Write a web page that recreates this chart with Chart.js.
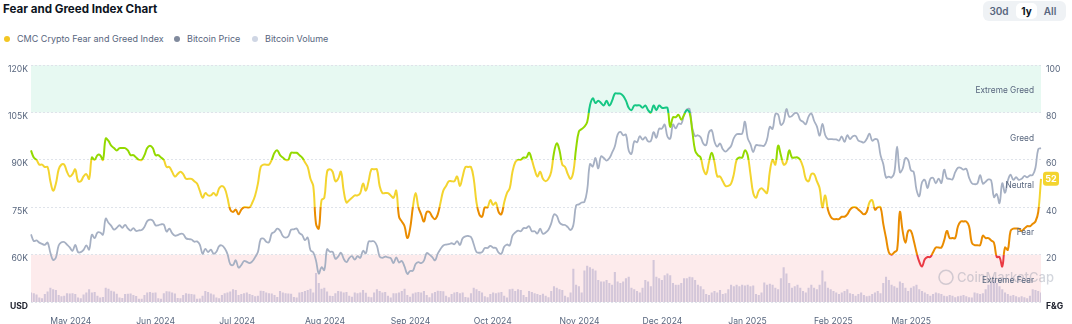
<!DOCTYPE html>
<html>
<head>
<meta charset="utf-8">
<script src="https://cdn.jsdelivr.net/npm/chart.js@4.4.1/dist/chart.umd.min.js"></script>
<style>
    body { margin: 0; background: #fff; font-family: Inter, 'Noto Sans', sans-serif; }
    .page { position: relative; width: 1072px; height: 324px; overflow: hidden; }
    .title { position: absolute; left: 3px; top: 2px; font-size: 11.6px; font-weight: 700; color: #0d1421; }
    .legend-item { position: absolute; top: 33px; font-size: 9px; color: #58667e; display: flex; align-items: center; white-space: nowrap; }
    .legend-item i { display: inline-block; width: 6px; height: 6px; border-radius: 50%; margin-right: 7px; }
    .tabs { position: absolute; left: 983px; top: 1px; width: 83px; height: 20px; background: #eff2f5; border-radius: 6px; }
    .tabs div { position: absolute; top: 2px; height: 16px; line-height: 16px; font-size: 10px; font-weight: 600; color: #58667e; text-align: center; }
    .tabs .on { background: #fff; color: #0d1421; border-radius: 5px; font-weight: 700; }
    .chart-box { position: absolute; left: 0; top: 55px; width: 1072px; height: 269px; }
    .chart-box canvas { display: block; }
</style>
</head>
<body>
<div class="page">
    <div class="title">Fear and Greed Index Chart</div>
    <div class="legend-item" style="left: 4px"><i style="background: #f3c623"></i>CMC Crypto Fear and Greed Index</div>
    <div class="legend-item" style="left: 174px"><i style="background: #808a9d"></i>Bitcoin Price</div>
    <div class="legend-item" style="left: 252px"><i style="background: #cfd6e4"></i>Bitcoin Volume</div>
    <div class="tabs">
        <div style="left: 4px; width: 24px">30d</div>
        <div class="on" style="left: 33px; width: 21px">1y</div>
        <div style="left: 56px; width: 22px">All</div>
    </div>
    <div class="chart-box"><canvas id="fgChart" width="1072" height="269"></canvas></div>
</div>
<script>
// daily points, first day 2024-04-24, last day 2025-04-24
const firstDay = Date.UTC(2024, 3, 24);

// Bitcoin price, thousands of USD
const btcPrice = [
    66.4, 64.3, 64.5, 63.8, 63.4, 63.1, 63.8, 60.6,
    58.3, 59.1, 62.9, 63.9, 64.0, 63.2, 62.3, 61.2, 63.1, 60.8, 60.8, 61.5, 62.9, 61.6, 66.3, 65.2, 67.0, 67.0, 66.3, 71.4, 70.1, 69.1, 67.9, 68.5, 69.3, 68.5, 69.4, 68.3, 67.6, 68.4, 67.5,
    67.7, 67.8, 68.8, 70.6, 71.1, 70.8, 69.3, 69.3, 69.6, 69.5, 67.3, 68.2, 66.8, 66.0, 66.2, 66.6, 66.5, 65.2, 64.9, 64.8, 64.1, 64.2, 63.2, 60.3, 61.8, 60.8, 61.6, 60.3, 60.9, 62.7,
    62.9, 62.0, 60.2, 57.0, 56.7, 58.2, 55.9, 56.7, 58.0, 57.7, 57.3, 57.9, 59.2, 60.8, 64.9, 65.1, 64.1, 63.9, 66.7, 67.2, 68.2, 67.6, 65.9, 65.4, 65.8, 67.9, 68.0, 68.3, 66.8, 66.2, 64.6,
    65.4, 61.4, 60.7, 58.1, 54.0, 56.0, 55.1, 61.7, 60.9, 60.9, 58.7, 59.4, 60.6, 58.7, 57.6, 58.9, 59.5, 58.4, 59.5, 59.0, 61.2, 60.4, 64.1, 64.2, 64.2, 62.8, 59.4, 59.0, 59.4, 59.1, 58.9,
    57.3, 59.1, 57.5, 58.0, 56.2, 53.9, 54.8, 54.9, 57.0, 57.6, 57.3, 58.1, 60.5, 60.0, 59.2, 58.2, 60.3, 61.8, 62.9, 63.2, 63.3, 63.6, 63.3, 64.3, 63.1, 65.2, 65.8, 65.9, 65.6, 63.3,
    60.8, 60.6, 60.8, 62.1, 62.1, 62.8, 62.2, 62.1, 60.6, 60.3, 62.5, 63.2, 62.9, 66.0, 67.0, 67.6, 67.4, 68.4, 68.4, 69.0, 67.4, 67.4, 66.7, 68.2, 66.6, 67.0, 67.9, 69.9, 72.7, 72.3, 70.2,
    69.5, 69.4, 68.7, 67.8, 69.4, 75.6, 75.9, 76.5, 76.7, 80.5, 88.7, 87.9, 90.6, 87.3, 91.1, 90.6, 89.8, 90.5, 92.3, 94.3, 98.0, 98.9, 97.8, 98.0, 93.0, 91.9, 95.9, 95.6, 97.5, 96.4,
    97.2, 95.9, 96.0, 98.8, 97.0, 99.9, 99.9, 101.2, 97.4, 96.7, 101.2, 100.0, 101.5, 101.4, 104.3, 106.0, 106.1, 100.0, 97.5, 97.8, 97.2, 95.1, 94.7, 98.7, 99.4, 95.8, 94.2, 95.2, 93.4, 92.6, 93.4,
    94.4, 96.9, 98.1, 98.2, 98.3, 102.1, 96.9, 95.0, 92.5, 94.7, 94.6, 94.5, 94.5, 96.5, 100.5, 99.8, 104.5, 104.4, 101.1, 102.0, 106.1, 103.7, 103.9, 104.8, 104.7, 102.6, 102.1, 101.3, 103.7, 104.7, 102.4,
    100.6, 97.7, 101.4, 97.9, 96.6, 96.6, 96.5, 96.5, 96.1, 97.4, 95.7, 97.8, 96.6, 97.5, 97.6, 96.1, 95.8, 95.5, 96.6, 98.3, 96.1, 96.6, 96.3, 91.5, 88.7, 84.4, 84.7, 84.4,
    86.0, 94.2, 86.1, 87.2, 90.6, 89.9, 86.7, 86.2, 80.6, 78.5, 82.9, 83.7, 81.1, 84.0, 84.3, 82.6, 84.1, 82.7, 86.9, 84.2, 84.0, 83.8, 86.1, 87.5, 87.5, 86.9, 87.2, 84.4, 82.6, 82.3, 82.5,
    85.2, 82.5, 83.1, 83.8, 83.5, 78.2, 79.2, 76.3, 82.6, 79.6, 83.4, 85.3, 83.7, 84.5, 83.7, 84.0, 84.9, 84.5, 85.1, 85.2, 87.5, 93.4, 93.7
];

// CMC Crypto Fear and Greed Index, 0-100
const fearGreed = [
    64, 61, 60, 58, 58, 57, 57, 51, 47, 50, 56, 58, 58, 55, 53, 54, 56, 51, 51, 53,
    54, 52, 61, 60, 62, 62, 60, 69, 68, 66, 65, 64, 65, 65, 65, 64, 62, 62, 61, 60,
    60, 62, 65, 66, 65, 62, 62, 61, 60, 57, 57, 55, 53, 54, 55, 54, 52, 52, 52, 51,
    50, 47, 44, 46, 45, 45, 46, 45, 48, 49, 48, 44, 39, 38, 39, 37, 39, 40, 40, 40,
    42, 45, 50, 57, 58, 58, 58, 60, 63, 64, 62, 61, 60, 60, 63, 63, 63, 62, 61, 59,
    57, 52, 49, 33, 31, 43, 44, 55, 56, 55, 51, 52, 55, 47, 42, 43, 44, 45, 45, 46,
    50, 47, 51, 56, 56, 56, 49, 46, 46, 46, 45, 44, 47, 36, 34, 32, 27, 31, 40, 46,
    40, 37, 34, 38, 38, 36, 35, 37, 42, 47, 49, 51, 51, 51, 53, 49, 53, 57, 57, 57,
    52, 42, 37, 36, 40, 40, 43, 41, 42, 38, 37, 42, 46, 48, 55, 59, 60, 60, 61, 61,
    63, 60, 56, 53, 55, 52, 51, 52, 55, 63, 67, 64, 58, 57, 54, 52, 55, 65, 72, 73,
    74, 76, 83, 86, 84, 85, 84, 83, 85, 83, 85, 88, 88, 88, 87, 85, 82, 81, 83, 83,
    83, 82, 83, 81, 80, 83, 81, 83, 82, 82, 82, 74, 78, 78, 79, 77, 79, 81, 80, 72,
    64, 62, 61, 56, 54, 59, 63, 59, 53, 53, 51, 49, 49, 50, 54, 60, 61, 61, 64, 62,
    54, 46, 44, 47, 48, 47, 46, 55, 60, 58, 66, 62, 58, 59, 64, 61, 61, 61, 60, 57,
    52, 51, 54, 54, 51, 48, 40, 45, 39, 36, 35, 35, 35, 36, 36, 37, 39, 40, 40, 39,
    38, 37, 38, 42, 43, 39, 40, 40, 33, 27, 21, 20, 21, 22, 38, 30, 25, 30, 30, 26,
    21, 17, 15, 18, 19, 19, 21, 23, 23, 23, 26, 30, 27, 27, 27, 32, 34, 34, 34, 32,
    25, 24, 24, 24, 28, 27, 27, 26, 25, 19, 19, 15, 23, 22, 30, 31, 31, 31, 30, 31,
    32, 32, 33, 34, 38, 52
];

// Bitcoin volume, billions of USD
const btcVolume = [
    30, 28, 24, 14, 12, 25, 33, 45, 40, 38, 22, 18, 20, 28, 27, 28, 25, 14, 12, 24, 30,
    40, 30, 32, 20, 14, 16, 45, 42, 36, 33, 26, 14, 13, 25, 26, 27, 22, 19, 10, 10, 22,
    30, 32, 29, 30, 12, 10, 28, 34, 33, 30, 27, 13, 12, 22, 28, 26, 25, 24, 10, 11, 20,
    35, 32, 27, 24, 14, 12, 22, 28, 30, 33, 40, 38, 22, 25, 28, 30, 25, 22, 18, 20, 36,
    35, 30, 28, 27, 22, 16, 35, 30, 28, 27, 26, 16, 14, 30, 32, 35, 38, 42, 30, 92, 60,
    42, 45, 33, 20, 19, 28, 35, 33, 30, 32, 20, 17, 30, 28, 30, 38, 29, 17, 15, 30, 40,
    35, 30, 32, 20, 14, 28, 28, 30, 35, 42, 22, 17, 27, 30, 32, 30, 35, 22, 15, 28, 32,
    36, 35, 34, 20, 15, 25, 30, 32, 28, 30, 16, 14, 28, 45, 40, 35, 30, 18, 15, 25, 30,
    28, 30, 32, 20, 14, 40, 42, 35, 40, 38, 22, 16, 35, 32, 28, 25, 22, 26, 20, 15, 35,
    50, 45, 40, 38, 20, 15, 30, 105, 55, 50, 30, 100, 115, 110, 105, 100, 70, 65, 65, 70, 60,
    55, 95, 65, 60, 65, 75, 80, 45, 40, 35, 30, 45, 70, 65, 50, 133, 80, 75, 70, 85, 90,
    85, 60, 55, 55, 60, 75, 75, 80, 78, 70, 55, 50, 40, 25, 22, 30, 35, 30, 38, 25, 28,
    40, 55, 50, 55, 50, 55, 52, 55, 50, 52, 25, 22, 30, 62, 55, 58, 55, 45, 40, 75, 110,
    90, 60, 45, 50, 55, 45, 35, 30, 45, 55, 45, 40, 55, 100, 65, 45, 40, 35, 30, 25, 30,
    35, 40, 28, 25, 20, 25, 30, 22, 18, 20, 25, 30, 35, 28, 60, 80, 70, 55, 50, 45, 65,
    60, 45, 35, 45, 50, 55, 40, 35, 30, 25, 20, 25, 30, 28, 25, 20, 18, 22, 20, 15, 18,
    20, 22, 18, 15, 14, 30, 28, 25, 28, 40, 55, 65, 70, 60, 50, 40, 30, 25, 20, 22, 18,
    15, 18, 15, 12, 20, 40, 38, 35, 30
];

// month labels on the x axis, placed on the first day of the month
const monthStarts = ['2024-05-01', '2024-06-01', '2024-07-01', '2024-08-01', '2024-09-01', '2024-10-01',
    '2024-11-01', '2024-12-01', '2025-01-01', '2025-02-01', '2025-03-01'];
const monthLabels = ['May 2024', 'Jun 2024', 'Jul 2024', 'Aug 2024', 'Sep 2024', 'Oct 2024',
    'Nov 2024', 'Dec 2024', 'Jan 2025', 'Feb 2025', 'Mar 2025'];

// sentiment zones of the index
const zoneEdges = [0, 20, 40, 60, 80, 100];
const zoneNames = ['Extreme Fear', 'Fear', 'Neutral', 'Greed', 'Extreme Greed'];
const zoneColors = ['#ea3943', '#ea8c00', '#f3d42f', '#93d900', '#16c784'];

const dates = btcPrice.map((_, i) => new Date(firstDay + i * 864e5).toISOString().slice(0, 10));
const monthIdx = monthStarts.map((d) => dates.indexOf(d));

const fontFamily = 'Inter, "Noto Sans", sans-serif';
Chart.defaults.font.family = fontFamily;
Chart.defaults.color = '#58667e';

// hard colour bands for the index line, top zone first so the stops stay in order
function fgColor(context) {
    const chart = context.chart;
    if (!chart.chartArea) return zoneColors[2];
    const y1 = chart.scales.y1;
    const top = y1.getPixelForValue(100);
    const bottom = y1.getPixelForValue(0);
    const g = chart.ctx.createLinearGradient(0, top, 0, bottom);
    for (let z = zoneNames.length - 1; z >= 0; z--) {
        g.addColorStop((100 - zoneEdges[z + 1]) / 100, zoneColors[z]);
        g.addColorStop((100 - zoneEdges[z]) / 100, zoneColors[z]);
    }
    return g;
}

const zonesPlugin = {
    id: 'zones',
    beforeDraw(chart) {
        const { ctx, chartArea, scales } = chart;
        const y1 = scales.y1;
        ctx.save();
        ctx.fillStyle = 'rgba(22, 199, 132, 0.1)';
        let t = y1.getPixelForValue(100), b = y1.getPixelForValue(80);
        ctx.fillRect(chartArea.left, t, chartArea.width, b - t);
        ctx.fillStyle = 'rgba(234, 57, 67, 0.1)';
        t = y1.getPixelForValue(20);
        b = y1.getPixelForValue(0);
        ctx.fillRect(chartArea.left, t, chartArea.width, b - t);
        ctx.restore();
    },
    afterDatasetsDraw(chart) {
        const { ctx, chartArea, scales } = chart;
        const y1 = scales.y1;
        ctx.save();
        // watermark
        ctx.globalAlpha = 0.35;
        ctx.strokeStyle = '#808a9d';
        ctx.fillStyle = '#808a9d';
        ctx.lineWidth = 1.6;
        ctx.beginPath();
        ctx.arc(946, y1.getPixelForValue(10) - 1, 7, 0, Math.PI * 2);
        ctx.stroke();
        ctx.font = '500 13px ' + fontFamily;
        ctx.textBaseline = 'middle';
        ctx.textAlign = 'left';
        ctx.fillText('CoinMarketCap', 957, y1.getPixelForValue(10));
        ctx.globalAlpha = 1;
        // zone names
        ctx.font = '8.3px ' + fontFamily;
        ctx.fillStyle = '#58667e';
        ctx.textAlign = 'right';
        for (let z = 0; z < zoneNames.length; z++) {
            const mid = (zoneEdges[z] + zoneEdges[z + 1]) / 2;
            ctx.fillText(zoneNames[z], chartArea.right - 7, y1.getPixelForValue(mid) + 2);
        }
        ctx.restore();
    },
    afterDraw(chart) {
        const { ctx, chartArea, scales } = chart;
        const last = fearGreed[fearGreed.length - 1];
        const y = scales.y1.getPixelForValue(last);
        let z = 0;
        while (z < zoneNames.length - 1 && last >= zoneEdges[z + 1]) z++;
        ctx.save();
        ctx.fillStyle = zoneColors[z];
        ctx.beginPath();
        ctx.roundRect(chartArea.right + 2, y - 7, 16, 14, 3);
        ctx.fill();
        ctx.fillStyle = '#fff';
        ctx.font = '700 9px ' + fontFamily;
        ctx.textAlign = 'center';
        ctx.textBaseline = 'middle';
        ctx.fillText(String(last), chartArea.right + 10, y + 0.5);
        ctx.restore();
    },
};

const tickFont = (bottomValue) => (c) => ({
    size: 8.6,
    weight: c.tick && c.tick.value === bottomValue ? '700' : '400',
});
const tickColor = (bottomValue) => (c) => (c.tick && c.tick.value === bottomValue ? '#222531' : '#58667e');

new Chart(document.getElementById('fgChart'), {
    type: 'line',
    data: {
        labels: dates,
        datasets: [
            {
                type: 'line',
                label: 'CMC Crypto Fear and Greed Index',
                data: fearGreed,
                yAxisID: 'y1',
                borderColor: fgColor,
                borderWidth: 2,
                pointRadius: 0,
                tension: 0.4,
                order: 0,
            },
            {
                type: 'line',
                label: 'Bitcoin Price',
                data: btcPrice.map((v) => v * 1000),
                yAxisID: 'y',
                borderColor: '#a6b0c3',
                borderWidth: 1.8,
                pointRadius: 0,
                tension: 0.4,
                order: 1,
            },
            {
                type: 'bar',
                label: 'Bitcoin Volume',
                data: btcVolume,
                yAxisID: 'yv',
                backgroundColor: '#d3c6d9',
                barPercentage: 0.75,
                categoryPercentage: 1,
                order: 2,
            },
        ],
    },
    options: {
        responsive: false,
        animation: false,
        layout: { padding: { top: 10 } },
        plugins: { legend: { display: false }, tooltip: { enabled: false } },
        scales: {
            x: {
                offset: false,
                grid: { display: false },
                border: { display: false },
                afterBuildTicks(scale) {
                    scale.ticks = monthIdx.map((v) => ({ value: v }));
                },
                afterFit(scale) {
                    scale.height = 22;
                },
                ticks: {
                    autoSkip: false,
                    maxRotation: 0,
                    align: 'start',
                    padding: 6,
                    font: { size: 8.6 },
                    callback: (v, i) => monthLabels[i],
                },
            },
            y: {
                position: 'left',
                min: 45000,
                max: 120000,
                grid: { color: '#dfe3ea', drawTicks: false },
                border: { display: false, dash: [2, 2] },
                afterFit(scale) {
                    scale.width = 31;
                },
                ticks: {
                    stepSize: 15000,
                    padding: 3,
                    labelOffset: 4,
                    font: tickFont(45000),
                    color: tickColor(45000),
                    callback: (v) => (v === 45000 ? 'USD' : v / 1000 + 'K'),
                },
            },
            y1: {
                position: 'right',
                min: 0,
                max: 100,
                grid: { display: false, drawTicks: false },
                border: { display: false },
                afterFit(scale) {
                    scale.width = 31;
                },
                ticks: {
                    stepSize: 20,
                    padding: 5,
                    labelOffset: 4,
                    font: tickFont(0),
                    color: tickColor(0),
                    callback: (v) => (v === 0 ? 'F&G' : v),
                },
            },
            yv: {
                display: false,
                min: 0,
                max: 750,
            },
        },
    },
    plugins: [zonesPlugin],
});
</script>
</body>
</html>
